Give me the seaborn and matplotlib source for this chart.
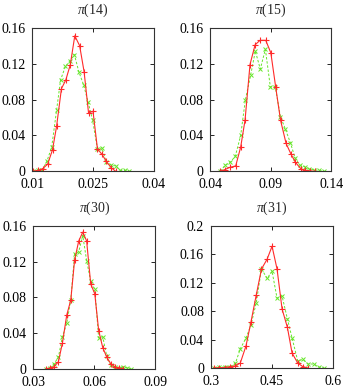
import matplotlib
matplotlib.use("Agg")
import matplotlib.pyplot as plt
from matplotlib.ticker import FuncFormatter
import seaborn as sns

# ---- data ----
titles = [r"$\pi$(14)", r"$\pi$(15)", r"$\pi$(30)", r"$\pi$(31)"]

p14_red_x = [0.01025, 0.0115, 0.0126, 0.0138, 0.0150, 0.0160, 0.0172, 0.0183, 0.0194, 0.0205,
             0.0217, 0.0228, 0.0239, 0.0250, 0.0261, 0.0272, 0.0283, 0.0295, 0.0306]
p14_red_y = [0, 0.001, 0.003, 0.008, 0.024, 0.050, 0.092, 0.102, 0.119, 0.151,
             0.140, 0.111, 0.065, 0.067, 0.025, 0.019, 0.011, 0.004, 0.0]
p14_grn_x = [0.01025, 0.0113, 0.0125, 0.0136, 0.0148, 0.0160, 0.0170, 0.0182, 0.0193, 0.0204, 0.0215,
             0.0227, 0.0238, 0.0249, 0.0261, 0.0272, 0.0283, 0.0295, 0.0306, 0.0317, 0.0329, 0.0340]
p14_grn_y = [0, 0.001, 0.002, 0.011, 0.027, 0.068, 0.102, 0.117, 0.123, 0.130, 0.111,
             0.096, 0.077, 0.057, 0.025, 0.026, 0.010, 0.007, 0.006, 0.001, 0.001, 0]

p15_red_x = [0.048, 0.0522, 0.0563, 0.061, 0.0651, 0.0687, 0.0728, 0.077, 0.0811, 0.0858,
             0.090, 0.094, 0.098, 0.1026, 0.1067, 0.1103, 0.1147, 0.1185, 0.1224, 0.1265]
p15_red_y = [0, 0.002, 0.0045, 0.006, 0.027, 0.057, 0.119, 0.141, 0.146, 0.146,
             0.132, 0.094, 0.057, 0.031, 0.019, 0.010, 0.003, 0.001, 0.0005, 0]
p15_grn_x = [0.0483, 0.0524, 0.0565, 0.0607, 0.0651, 0.0689, 0.0733, 0.0772, 0.0813, 0.0855, 0.0896,
             0.0937, 0.0979, 0.102, 0.1061, 0.110, 0.1138, 0.118, 0.1218, 0.1259, 0.1298, 0.134]
p15_grn_y = [0, 0.007, 0.010, 0.017, 0.040, 0.079, 0.107, 0.134, 0.114, 0.136, 0.094,
             0.094, 0.061, 0.047, 0.032, 0.015, 0.007, 0.005, 0.003, 0.0015, 0.001, 0]

p30_red_x = [0.0362, 0.0382, 0.0402, 0.0423, 0.0443, 0.0464, 0.0484, 0.0503, 0.0523, 0.0543,
             0.0562, 0.0582, 0.0602, 0.0621, 0.0641, 0.0661, 0.0680, 0.0702, 0.0721, 0.0741]
p30_red_y = [0, 0.001, 0.0026, 0.008, 0.029, 0.060, 0.077, 0.122, 0.143, 0.153,
             0.143, 0.095, 0.084, 0.043, 0.024, 0.013, 0.006, 0.002, 0.001, 0.0005]
p30_grn_x = [0.0362, 0.0382, 0.0402, 0.0423, 0.0443, 0.0464, 0.0484, 0.0503, 0.0523, 0.0543, 0.0562,
             0.0582, 0.0602, 0.0621, 0.0641, 0.0661, 0.0680, 0.0702, 0.0721, 0.0741, 0.0761, 0.078]
p30_grn_y = [0, 0.001, 0.006, 0.013, 0.036, 0.051, 0.077, 0.129, 0.131, 0.149, 0.121,
             0.098, 0.089, 0.035, 0.036, 0.014, 0.0045, 0.002, 0.001, 0.002, 0.0015, 0]

p31_red_x = [0.3066, 0.3189, 0.3336, 0.3475, 0.360, 0.372, 0.386, 0.398, 0.411, 0.424,
             0.438, 0.45, 0.4623, 0.4746, 0.4877, 0.4992, 0.5131, 0.5254, 0.5385]
p31_red_y = [0, 0.0005, 0.0005, 0.002, 0.003, 0.007, 0.031, 0.064, 0.102, 0.139,
             0.153, 0.171, 0.139, 0.083, 0.057, 0.021, 0.007, 0.002, 0]
p31_grn_x = [0.3066, 0.3189, 0.3336, 0.3475, 0.360, 0.372, 0.386, 0.398, 0.411, 0.424, 0.438,
             0.45, 0.4623, 0.4746, 0.4877, 0.4992, 0.5131, 0.5254, 0.5385, 0.5525, 0.5648, 0.577]
p31_grn_y = [0, 0.001, 0.0015, 0.002, 0.0066, 0.027, 0.042, 0.060, 0.091, 0.139, 0.126,
             0.136, 0.098, 0.101, 0.069, 0.042, 0.010, 0.012, 0.0056, 0.0056, 0.0014, 0]

x_ticks = [[0.01, 0.025, 0.04], [0.04, 0.09, 0.14], [0.03, 0.06, 0.09], [0.3, 0.45, 0.6]]
y_ticks = [[0, 0.04, 0.08, 0.12, 0.16], [0, 0.04, 0.08, 0.12, 0.16],
           [0, 0.04, 0.08, 0.12, 0.16], [0, 0.04, 0.08, 0.12, 0.16, 0.2]]

panels = [
    (p14_red_x, p14_red_y, p14_grn_x, p14_grn_y),
    (p15_red_x, p15_red_y, p15_grn_x, p15_grn_y),
    (p30_red_x, p30_red_y, p30_grn_x, p30_grn_y),
    (p31_red_x, p31_red_y, p31_grn_x, p31_grn_y),
]

# ---- style ----
sns.set_style("ticks")
plt.rcParams["font.family"] = ["Liberation Serif", "DejaVu Serif"]
plt.rcParams["mathtext.fontset"] = "custom"
plt.rcParams["mathtext.it"] = "Liberation Serif:italic"
plt.rcParams["mathtext.rm"] = "Liberation Serif"

fig = plt.figure(figsize=(3.47, 3.88), dpi=100)
positions = [
    [0.093, 0.5585, 0.350, 0.370],
    [0.606, 0.5585, 0.349, 0.370],
    [0.096, 0.049, 0.352, 0.369],
    [0.608, 0.0515, 0.352, 0.367],
]

red = "#ff2a2a"
green = "#66e62a"

fmt = FuncFormatter(lambda v, p: "%g" % v)

for i, (rx, ry, gx, gy) in enumerate(panels):
    ax = fig.add_axes(positions[i])
    sns.lineplot(x=gx, y=gy, ax=ax, color=green, linestyle=(0, (2.5, 1.8)), linewidth=0.7,
                 marker="x", markersize=3.2, markeredgewidth=0.7, markeredgecolor=green,
                 sort=False, estimator=None)
    sns.lineplot(x=rx, y=ry, ax=ax, color=red, linewidth=0.8,
                 marker="+", markersize=4.5, markeredgewidth=0.8, markeredgecolor=red,
                 sort=False, estimator=None)
    ax.set_xlim(x_ticks[i][0], x_ticks[i][-1])
    ax.set_ylim(y_ticks[i][0], y_ticks[i][-1])
    ax.set_xticks(x_ticks[i])
    ax.set_yticks(y_ticks[i])
    ax.xaxis.set_major_formatter(fmt)
    ax.yaxis.set_major_formatter(fmt)
    ax.tick_params(direction="in", top=True, right=True, length=3, width=0.6,
                   labelsize=10, colors="black")
    ax.tick_params(axis="x", pad=5)
    ax.tick_params(axis="y", pad=5)
    for s in ax.spines.values():
        s.set_visible(True)
        s.set_linewidth(0.8)
        s.set_color("#333333")
    ax.set_xlabel("")
    ax.set_ylabel("")
    ax.set_title(titles[i], fontsize=10, pad=10)

fig.savefig("out.png", dpi=100)
